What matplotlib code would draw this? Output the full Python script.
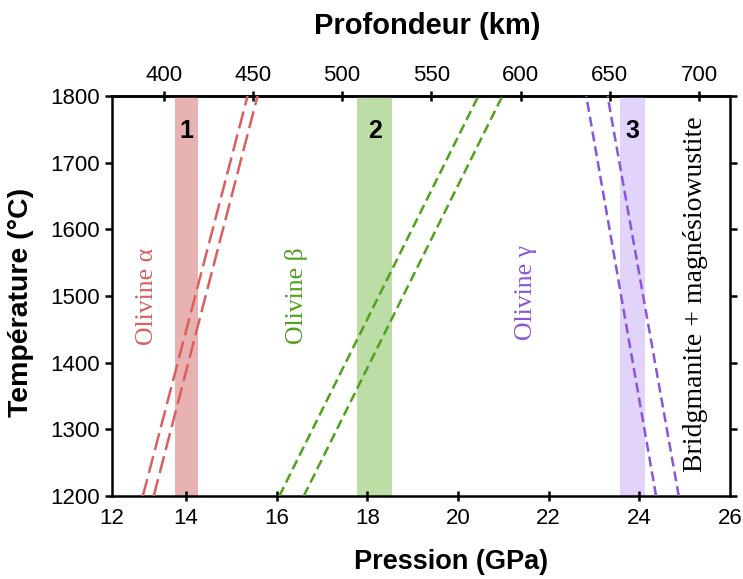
import matplotlib
matplotlib.use("Agg")
import matplotlib.pyplot as plt
import numpy as np

# ---- data ----
x_left, x_right = 12.37, 26.0
y_min, y_max = 1200, 1800
x_ticks = [12.37, 14, 16, 18, 20, 22, 24, 26]
x_tick_labels = ["12", "14", "16", "18", "20", "22", "24", "26"]
y_ticks = [1200, 1300, 1400, 1500, 1600, 1700, 1800]
depth_ticks = [400, 450, 500, 550, 600, 650, 700]
# depth (km) = depth_a + depth_b * P (GPa)
depth_a, depth_b = 56.9, 25.4

band_names = ["1", "2", "3"]
band_lo = [13.75, 17.78, 23.58]
band_hi = [14.26, 18.55, 24.13]
band_colors = ["#e8b2b2", "#bcdda6", "#e2d3fb"]

# boundary lines: pressure at T=1200 and T=1800
line_T = [1200, 1800]
red_lines = [[13.05, 15.36], [13.29, 15.58]]
green_lines = [[16.06, 20.45], [16.60, 20.98]]
purple_lines = [[24.37, 22.83], [24.87, 23.30]]

red = "#d9605f"
green = "#4ea21c"
purple = "#8a55d9"

phase_labels = ["Olivine α", "Olivine β", "Olivine γ", "Bridgmanite + magnésiowustite"]
phase_x = [13.15, 16.45, 21.5, 25.25]
phase_y = [1500, 1500, 1505, 1503]
phase_colors = [red, green, purple, "black"]

plt.rcParams['font.family'] = ['Liberation Sans', 'DejaVu Sans']

fig = plt.figure(figsize=(7.43, 5.79), dpi=100)
ax = fig.add_axes([112/743, 1 - 496/579, (730-112)/743, 400/579])

for lo, hi, c, n in zip(band_lo, band_hi, band_colors, band_names):
    ax.axvspan(lo, hi, color=c, lw=0, zorder=1)
    ax.text((lo + hi) / 2, 1748, n, ha='center', va='center',
            fontsize=18, fontweight='bold', zorder=5)

for l in red_lines:
    ax.plot(l, line_T, color=red, lw=1.8, dashes=(7, 2.5), zorder=3)
for l in green_lines:
    ax.plot(l, line_T, color=green, lw=1.8, dashes=(4, 2), zorder=3)
for l in purple_lines:
    ax.plot(l, line_T, color=purple, lw=1.8, dashes=(4, 2), zorder=3)

for i, (t, x, y, c) in enumerate(zip(phase_labels, phase_x, phase_y, phase_colors)):
    ax.text(x, y, t, rotation=90, ha='center', va='center', color=c,
            fontsize=20 if i == 3 else 18.5,
            family=['Liberation Serif', 'DejaVu Serif'], zorder=5)

ax.set_xlim(x_left, x_right)
ax.set_ylim(y_min, y_max)
ax.set_xticks(x_ticks)
ax.set_xticklabels(x_tick_labels)
ax.set_yticks(y_ticks)

for s in ax.spines.values():
    s.set_linewidth(1.8)

ax.tick_params(axis='x', direction='inout', length=7, width=1.8, labelsize=16, pad=5)
ax.tick_params(axis='y', direction='out', length=5, width=1.8, labelsize=16, pad=4,
               right=True)
ax.xaxis.get_major_ticks()[0].tick1line.set_visible(False)
ax.xaxis.get_major_ticks()[-1].tick1line.set_visible(False)

ax.set_xlabel("Pression (GPa)", fontsize=19.5, fontweight='bold')
ax.xaxis.set_label_coords((451 - 112) / 618, (496 - 562) / 400)
ax.xaxis.label.set_va('center')
ax.set_ylabel("Température (°C)", fontsize=20.5, fontweight='bold')
ax.yaxis.set_label_coords((21 - 112) / 618, (496 - 302) / 400)
ax.yaxis.label.set_va('center')

sec = ax.secondary_xaxis('top', functions=(lambda p: depth_a + depth_b * p,
                                           lambda d: (d - depth_a) / depth_b))
sec.set_xticks(depth_ticks)
sec.tick_params(direction='inout', length=7, width=1.8, labelsize=16, pad=4)
sec.spines['top'].set_linewidth(1.8)
fig.text(427 / 743, 1 - 26 / 579, "Profondeur (km)", fontsize=21, fontweight='bold',
         ha='center', va='center')

fig.savefig("out.png", dpi=100)
